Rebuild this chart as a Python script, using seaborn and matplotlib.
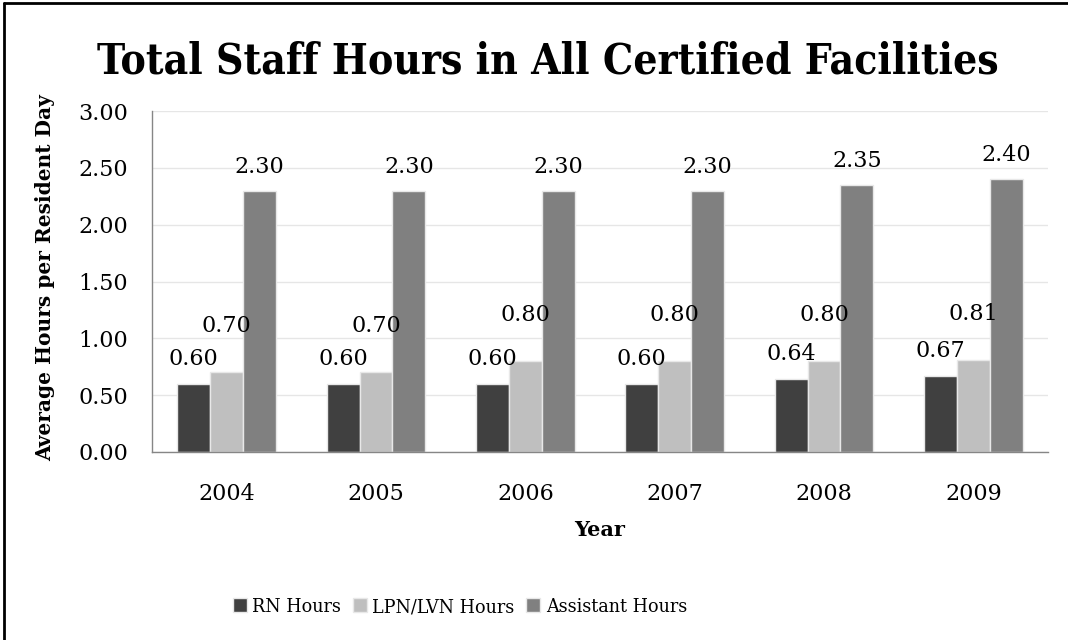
import matplotlib
matplotlib.use('Agg')
import matplotlib.pyplot as plt
import seaborn as sns
import pandas as pd
from matplotlib.lines import Line2D
from matplotlib.patches import Patch
from matplotlib.font_manager import FontProperties, fontManager

years = ['2004', '2005', '2006', '2007', '2008', '2009']
series = ['RN Hours', 'LPN/LVN Hours', 'Assistant Hours']
rn = [0.60, 0.60, 0.60, 0.60, 0.64, 0.67]
lpn = [0.70, 0.70, 0.80, 0.80, 0.80, 0.81]
assist = [2.30, 2.30, 2.30, 2.30, 2.35, 2.40]
yticks = [0.0, 0.5, 1.0, 1.5, 2.0, 2.5, 3.0]

colors = ['#404040', '#bfbfbf', '#808080']
label_offsets_px = [25, 46, 24]

sns.set_theme(style='white')
plt.rcParams['font.family'] = ['DejaVu Serif']
plt.rcParams['text.color'] = 'black'
plt.rcParams['xtick.color'] = 'black'
plt.rcParams['ytick.color'] = 'black'

has_cond = any(f.name == 'DejaVu Serif' and 'ondensed' in str(f.stretch).lower() or
               ('DejaVuSerifCondensed' in f.fname) for f in fontManager.ttflist)

df = pd.DataFrame({
    'Year': years * 3,
    'Series': [s for s in series for _ in years],
    'Value': rn + lpn + assist,
})

W, H = 1068, 640
fig = plt.figure(figsize=(W / 100, H / 100), dpi=100)
ax = fig.add_axes([152 / W, 1 - 452 / H, (1048 - 152) / W, (452 - 111) / H])

sns.barplot(data=df, x='Year', y='Value', hue='Series', hue_order=series,
            palette=colors, width=0.66, gap=0, edgecolor='#e8e8e8',
            linewidth=1, ax=ax, legend=False, errorbar=None)

for container, off in zip(ax.containers, label_offsets_px):
    for bar in container:
        h = bar.get_height()
        ax.annotate(f'{h:.2f}', (bar.get_x() + bar.get_width() / 2, h),
                    xytext=(0, off), textcoords='offset pixels',
                    ha='center', va='center', fontsize=16, color='black')

ax.set_ylim(0, 3)
ax.set_yticks(yticks)
ax.set_yticklabels([f'{t:.2f}' for t in yticks], fontsize=16)
ax.tick_params(axis='x', length=0, pad=22, labelsize=16, labelcolor='black')
ax.tick_params(axis='y', length=6, width=1, color='#d9d9d9', pad=11, labelcolor='black')
ax.yaxis.grid(True, color='#e6e6e6', linewidth=1)
ax.set_axisbelow(True)
for s in ['top', 'right']:
    ax.spines[s].set_visible(False)
for s in ['left', 'bottom']:
    ax.spines[s].set_color('#868686')
    ax.spines[s].set_linewidth(1)
ax.set_xlabel('')
ax.set_ylabel('')

fig.text(600 / W, 1 - 530 / H, 'Year', ha='center', va='center',
         fontsize=15, fontweight='bold', color='black')
fig.text(45 / W, 1 - 278 / H, 'Average Hours per Resident Day', ha='center',
         va='center', rotation=90, fontsize=14.5, fontweight='bold', color='black')

title_fp = FontProperties(family='DejaVu Serif', weight='bold',
                          stretch='condensed' if has_cond else 'normal',
                          size=30.5 if has_cond else 27)
fig.text(548 / W, 1 - 62 / H, 'Total Staff Hours in All Certified Facilities',
         ha='center', va='center', fontproperties=title_fp, color='black')

leg_fp = FontProperties(family='DejaVu Serif',
                        stretch='condensed' if has_cond else 'normal',
                        size=14 if has_cond else 12.5)
handles = [Patch(facecolor=c, edgecolor='#e8e8e8', label=s) for c, s in zip(colors, series)]
fig.legend(handles=handles, loc='center', bbox_to_anchor=(460 / W, 1 - 607 / H),
           ncol=3, frameon=False, prop=leg_fp, handlelength=0.7,
           handleheight=0.7, handletextpad=0.3, columnspacing=0.6)

fig.add_artist(Line2D([4 / W, 4 / W], [0, 1 - 3 / H], color='black', lw=2,
                      transform=fig.transFigure))
fig.add_artist(Line2D([4 / W, 1], [1 - 3 / H, 1 - 3 / H], color='black', lw=2,
                      transform=fig.transFigure))

fig.savefig('out.png', dpi=100)
